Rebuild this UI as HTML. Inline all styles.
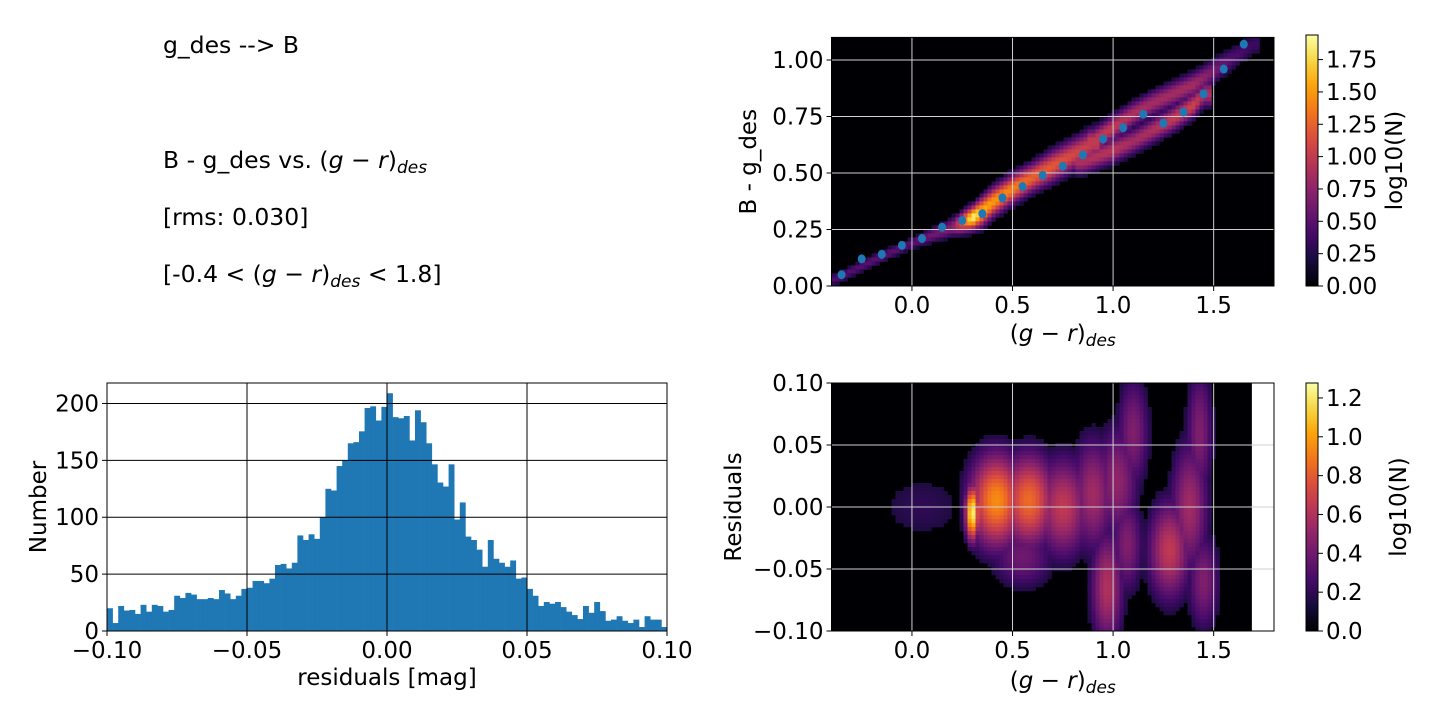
<!DOCTYPE html>
<html><head><meta charset="utf-8">
<style>
html,body{margin:0;padding:0;background:#fff;}
svg{display:block;font-family:"DejaVu Sans","Liberation Sans",sans-serif;}
text{fill:#000;}
</style></head>
<body>
<svg id="fig" width="1440" height="720" viewBox="0 0 1440 720" xmlns="http://www.w3.org/2000/svg">
  <defs>
    <linearGradient id="inferno" x1="0" y1="1" x2="0" y2="0">
      <stop offset="0" stop-color="#000004"/><stop offset="0.1" stop-color="#160b39"/>
      <stop offset="0.2" stop-color="#420a68"/><stop offset="0.3" stop-color="#6a176e"/>
      <stop offset="0.4" stop-color="#932667"/><stop offset="0.5" stop-color="#bc3754"/>
      <stop offset="0.6" stop-color="#dd513a"/><stop offset="0.7" stop-color="#f37819"/>
      <stop offset="0.8" stop-color="#fca50a"/><stop offset="0.9" stop-color="#f6d746"/>
      <stop offset="1" stop-color="#fcffa4"/>
    </linearGradient>
  </defs>
  <g font-size="23.5">
    <text x="163" y="53">g_des --&gt; B</text>
    <text x="163" y="168">B - g_des vs. (<tspan font-style="italic">g</tspan> − <tspan font-style="italic">r</tspan>)<tspan font-style="italic" font-size="17" dy="5">des</tspan></text>
    <text x="163" y="225">[rms: 0.030]</text>
    <text x="163" y="282">[-0.4 &lt; (<tspan font-style="italic">g</tspan> − <tspan font-style="italic">r</tspan>)<tspan font-style="italic" font-size="17" dy="5">des</tspan><tspan dy="-5"> &lt; 1.8]</tspan></text>
  </g>
  <g id="hist"></g>
  <g id="top"></g>
  <g id="bot"></g>
</svg>
<script>
// ---------- histogram data ----------
const histCounts = [20,7,22,18,18.5,15,23,17,23,22,17,18.5,31,29,33.5,32,28,28,29,28,36,33,28,31,37,
 38,44,44,42,46,58,59,55,60,84,80,85,81,100,125,123.5,145,150,165,166,175.5,196,197.5,185,197,
 209,188,187,189,167.5,194,183.5,165,146.5,130.5,127,146.5,98,113,83,80,71.5,56.5,80,63.5,60,56.5,62,46,47,
 37,31,22,25.5,24,25.5,21,17,14,10.5,22,16,25.5,17.5,9,10,13,9,7,10,3.5,13,10,10,3.5];
const histXTicks = [-0.10,-0.05,0.00,0.05,0.10];
const histXTickLabels = ["−0.10","−0.05","0.00","0.05","0.10"];
const histYTicks = [0,50,100,150,200];
// ---------- top heatmap data ----------
const medX = [-0.35,-0.25,-0.15,-0.05,0.05,0.15,0.25,0.35,0.45,0.55,0.65,0.75,0.85,0.95,1.05,1.15,1.25,1.35,1.45,1.55,1.65];
const medY = [0.05,0.12,0.14,0.18,0.21,0.26,0.29,0.32,0.39,0.44,0.49,0.53,0.58,0.65,0.70,0.76,0.72,0.77,0.85,0.96,1.07];
const mainRidgeX = [-0.38,-0.2,0,0.2,0.27,0.3,0.35,0.4,0.5,0.6,0.7,0.8,0.9];
const mainRidgeY = [0.03,0.11,0.19,0.26,0.29,0.30,0.33,0.37,0.43,0.48,0.53,0.58,0.63];
const mainRidgeI = [0.45,0.5,0.5,0.7,1.5,1.9,1.6,1.5,1.4,1.25,1.2,1.1,1.0];
const mainRidgeW = [0.02,0.02,0.02,0.03,0.035,0.035,0.045,0.045,0.045,0.045,0.05,0.05,0.05];
const upperRidgeX = [0.9,1.0,1.1,1.2,1.3,1.4,1.5,1.6,1.7];
const upperRidgeY = [0.64,0.70,0.76,0.81,0.85,0.89,0.95,1.01,1.07];
const upperRidgeI = [1.0,1.0,0.9,0.85,0.85,0.85,0.65,0.45,0.35];
const lowerRidgeX = [0.85,1.0,1.1,1.2,1.3,1.4,1.45];
const lowerRidgeY = [0.55,0.60,0.64,0.69,0.74,0.80,0.85];
const lowerRidgeI = [0.9,0.95,0.85,0.9,1.0,1.05,0.9];
const topXTicks = [0.0,0.5,1.0,1.5];
const topYTicks = [0.00,0.25,0.50,0.75,1.00];
const topCbTicks = [0,0.25,0.5,0.75,1.0,1.25,1.5,1.75];
// ---------- bottom heatmap data ----------
const blobX  = [0.30,0.42,0.58,0.75,0.90,0.97,1.02,1.10,1.07,1.28,1.38,1.43,1.45,0.05,0.55];
const blobY  = [-0.005,0.005,0.005,0.0,0.01,-0.065,0.02,0.06,-0.03,-0.035,0.0,0.06,-0.06,0.0,-0.04];
const blobSX = [0.025,0.1,0.1,0.1,0.08,0.06,0.08,0.06,0.06,0.08,0.07,0.05,0.06,0.2,0.12];
const blobSY = [0.016,0.028,0.028,0.03,0.035,0.035,0.035,0.035,0.03,0.03,0.04,0.04,0.03,0.025,0.02];
const blobI  = [1.25,0.95,0.85,0.65,0.55,0.6,0.5,0.45,0.45,0.65,0.55,0.45,0.45,0.2,0.4];
const botXTicks = [0.0,0.5,1.0,1.5];
const botYTicks = [-0.10,-0.05,0.00,0.05,0.10];
const botYTickLabels = ["−0.10","−0.05","0.00","0.05","0.10"];
const botCbTicks = [0,0.2,0.4,0.6,0.8,1.0,1.2];
const botCbLabels = ["0.0","0.2","0.4","0.6","0.8","1.0","1.2"];

const FS=23;
const NS="http://www.w3.org/2000/svg";
function mk(p,tag,attrs,txt){const e=document.createElementNS(NS,tag);for(const k in attrs)e.setAttribute(k,attrs[k]);if(txt!==undefined)e.textContent=txt;p.appendChild(e);return e;}
function lin(d0,d1,r0,r1){return v=>r0+(v-d0)/(d1-d0)*(r1-r0);}
const infernoStops=["#000004","#160b39","#420a68","#6a176e","#932667","#bc3754","#dd513a","#f37819","#fca50a","#f6d746","#fcffa4"];
function hex(c){return [parseInt(c.slice(1,3),16),parseInt(c.slice(3,5),16),parseInt(c.slice(5,7),16)];}
function inferno(t){t=Math.max(0,Math.min(1,t));const f=t*10,i=Math.min(9,Math.floor(f)),r=f-i;const a=hex(infernoStops[i]),b=hex(infernoStops[i+1]);return `rgb(${a.map((v,k)=>Math.round(v+(b[k]-v)*r)).join(',')})`;}
function interp(xs,ys,x){if(x<=xs[0])return ys[0];for(let i=1;i<xs.length;i++){if(x<=xs[i]){const r=(x-xs[i-1])/(xs[i]-xs[i-1]);return ys[i-1]+r*(ys[i]-ys[i-1]);}}return ys[ys.length-1];}

// ---------- histogram ----------
(function(){
  const g=document.getElementById('hist');
  const L=107,R=667,T=383,B=631;
  const x=lin(-0.1,0.1,L,R), y=lin(0,218,B,T);
  const bw=0.2/histCounts.length;
  histCounts.forEach((c,i)=>{
    const x0=x(-0.1+i*bw),x1=x(-0.1+(i+1)*bw);
    const r=mk(g,'rect',{x:x0,y:y(c),width:x1-x0+0.3,height:B-y(c),fill:'#1f77b4'});
    
    
  });
  histXTicks.forEach((t,i)=>{
    mk(g,'line',{x1:x(t),x2:x(t),y1:T,y2:B,stroke:'#000','stroke-width':1});
    mk(g,'line',{x1:x(t),x2:x(t),y1:B,y2:B+5,stroke:'#000','stroke-width':1});
    const tx=mk(g,'text',{x:x(t),y:B+27,'font-size':FS,'text-anchor':'middle'},histXTickLabels[i]);
    
    
  });
  histYTicks.forEach(t=>{
    mk(g,'line',{x1:L,x2:R,y1:y(t),y2:y(t),stroke:'#000','stroke-width':1});
    mk(g,'line',{x1:L-5,x2:L,y1:y(t),y2:y(t),stroke:'#000','stroke-width':1});
    const tx=mk(g,'text',{x:L-8,y:y(t)+8,'font-size':FS,'text-anchor':'end'},String(t));
    
    
  });
  mk(g,'rect',{x:L,y:T,width:R-L,height:B-T,fill:'none',stroke:'#000','stroke-width':1});
  const xl=mk(g,'text',{x:(L+R)/2,y:685,'font-size':FS,'text-anchor':'middle'},'residuals [mag]');
  
  
  const yl=mk(g,'text',{x:0,y:0,'font-size':FS,'text-anchor':'middle',transform:`translate(46,${(T+B)/2}) rotate(-90)`},'Number');
  
  
})();

function xTitle(g,cx,y){
  const t=mk(g,'text',{x:cx,y:y,'font-size':FS,'text-anchor':'middle'});
  t.innerHTML='(<tspan font-style="italic">g</tspan> − <tspan font-style="italic">r</tspan>)<tspan font-style="italic" font-size="17" dy="5">des</tspan>';
  return t;
}
function colorbar(g,top,bot,vmax,ticks,labels,name,labX){
  const cx=1306,cw=12;
  const cb=mk(g,'rect',{x:cx,y:top,width:cw,height:bot-top,fill:'url(#inferno)',stroke:'#000','stroke-width':1});
  
  
  const y=lin(0,vmax,bot,top);
  ticks.forEach((t,i)=>{
    mk(g,'line',{x1:cx+cw,x2:cx+cw+5,y1:y(t),y2:y(t),stroke:'#000','stroke-width':1});
    const tx=mk(g,'text',{x:cx+cw+8,y:y(t)+8,'font-size':FS},labels[i]);
    
    
  });
  const lab=mk(g,'text',{x:0,y:0,'font-size':FS,'text-anchor':'middle',transform:`translate(${labX},${(top+bot)/2}) rotate(-90)`},'log10(N)');
  
  
}

// ---------- top heatmap ----------
(function(){
  const g=document.getElementById('top');
  const L=831.5,R=1274,T=37.4,B=286;
  const x=lin(-0.4,1.8,L,R), y=lin(0,1.1,B,T);
  const vmax=1.94;
  mk(g,'rect',{x:L,y:T,width:R-L,height:B-T,fill:'#000004'});
  const cs=4;
  const ridges=[[mainRidgeX,mainRidgeY,mainRidgeI,mainRidgeW],[upperRidgeX,upperRidgeY,upperRidgeI,null],[lowerRidgeX,lowerRidgeY,lowerRidgeI,null]];
  for(let px=L;px<R;px+=cs){
    const dx=(px+cs/2-L)/(R-L)*2.2-0.4;
    for(let py=T;py<B;py+=cs){
      const dy=(B-(py+cs/2))/(B-T)*1.1;
      let v=0;
      ridges.forEach(([rx,ry,ri,rw])=>{
        if(dx<rx[0]-0.03||dx>rx[rx.length-1]+0.03)return;
        const cy=interp(rx,ry,dx),I=interp(rx,ri,dx);
        const w=rw?interp(rx,rw,dx):0.04;
        const d=(dy-cy)/w;
        v=Math.max(v,I*Math.exp(-d*d/2));
      });
      if(v>0.2){
        const c=mk(g,'rect',{x:px,y:py,width:cs+0.3,height:cs+0.3,fill:inferno(v/vmax)});
        
        
      }
    }
  }
  topXTicks.forEach(t=>{
    mk(g,'line',{x1:x(t),x2:x(t),y1:T,y2:B,stroke:'#d0d0d0','stroke-width':1});
    mk(g,'line',{x1:x(t),x2:x(t),y1:B,y2:B+5,stroke:'#000'});
    const tx=mk(g,'text',{x:x(t),y:B+27,'font-size':FS,'text-anchor':'middle'},t.toFixed(1));
    
    
  });
  topYTicks.forEach(t=>{
    mk(g,'line',{x1:L,x2:R,y1:y(t),y2:y(t),stroke:'#d0d0d0','stroke-width':1});
    mk(g,'line',{x1:L-5,x2:L,y1:y(t),y2:y(t),stroke:'#000'});
    const tx=mk(g,'text',{x:L-8,y:y(t)+8,'font-size':FS,'text-anchor':'end'},t.toFixed(2));
    
    
  });
  medX.forEach((mx,i)=>{
    const p=mk(g,'ellipse',{cx:x(mx),cy:y(medY[i]),rx:4,ry:4.5,fill:'#1f77b4'});
    
    
  });
  mk(g,'rect',{x:L,y:T,width:R-L,height:B-T,fill:'none',stroke:'#000','stroke-width':1});
  const xt=xTitle(g,(L+R)/2+10,341);
  
  
  const yl=mk(g,'text',{x:0,y:0,'font-size':FS,'text-anchor':'middle',transform:`translate(756,${(T+B)/2}) rotate(-90)`},'B - g_des');
  
  
  colorbar(g,35,286,vmax,topCbTicks,topCbTicks.map(t=>t.toFixed(2)),'top-colorbar',1402);
})();

// ---------- bottom heatmap ----------
(function(){
  const g=document.getElementById('bot');
  const L=831.5,R=1274,T=383,B=631;
  const x=lin(-0.4,1.8,L,R), y=lin(-0.1,0.1,B,T);
  const vmax=1.277;
  const dataR=x(1.69);
  mk(g,'rect',{x:L,y:T,width:dataR-L,height:B-T,fill:'#000004'});
  const cs=4;
  for(let px=L;px<dataR;px+=cs){
    const dx=(px+cs/2-L)/(R-L)*2.2-0.4;
    for(let py=T;py<B;py+=cs){
      const dy=0.1-(py+cs/2-T)/(B-T)*0.2;
      let v=0;
      blobX.forEach((bx,i)=>{
        const a=(dx-bx)/blobSX[i],b=(dy-blobY[i])/blobSY[i];
        v=Math.max(v,blobI[i]*Math.exp(-(a*a+b*b)/2));
      });
      if(v>0.15){
        const c=mk(g,'rect',{x:px,y:py,width:cs+0.3,height:cs+0.3,fill:inferno(v/vmax)});
        
        
      }
    }
  }
  botXTicks.forEach(t=>{
    mk(g,'line',{x1:x(t),x2:x(t),y1:T,y2:B,stroke:'#d0d0d0','stroke-width':1});
    mk(g,'line',{x1:x(t),x2:x(t),y1:B,y2:B+5,stroke:'#000'});
    const tx=mk(g,'text',{x:x(t),y:B+27,'font-size':FS,'text-anchor':'middle'},t.toFixed(1));
    
    
  });
  botYTicks.forEach((t,i)=>{
    mk(g,'line',{x1:L,x2:R,y1:y(t),y2:y(t),stroke:'#d0d0d0','stroke-width':1});
    mk(g,'line',{x1:L-5,x2:L,y1:y(t),y2:y(t),stroke:'#000'});
    const tx=mk(g,'text',{x:L-8,y:y(t)+8,'font-size':FS,'text-anchor':'end'},botYTickLabels[i]);
    
    
  });
  mk(g,'rect',{x:L,y:T,width:R-L,height:B-T,fill:'none',stroke:'#000','stroke-width':1});
  const xt=xTitle(g,(L+R)/2+10,688);
  
  
  const yl=mk(g,'text',{x:0,y:0,'font-size':FS,'text-anchor':'middle',transform:`translate(741,${(T+B)/2}) rotate(-90)`},'Residuals');
  
  
  colorbar(g,383,631,vmax,botCbTicks,botCbLabels,'bottom-colorbar',1406);
})();
</script>
</body></html>
